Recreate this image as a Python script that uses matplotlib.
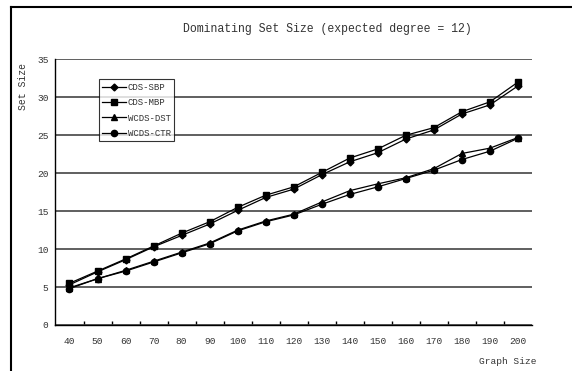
import matplotlib

matplotlib.use("Agg")
import matplotlib.pyplot as plt
from matplotlib.lines import Line2D

graph_sizes = ["40", "50", "60", "70", "80", "90", "100", "110", "120",
               "130", "140", "150", "160", "170", "180", "190", "200"]

cds_sbp = [5.3, 7.0, 8.6, 10.3, 11.8, 13.3, 15.1, 16.8, 17.9,
           19.8, 21.5, 22.7, 24.5, 25.7, 27.8, 29.0, 31.5]
cds_mbp = [5.5, 7.1, 8.7, 10.4, 12.1, 13.6, 15.5, 17.1, 18.2,
           20.1, 22.0, 23.2, 25.0, 26.0, 28.1, 29.4, 32.0]
wcds_dst = [4.9, 6.1, 7.2, 8.4, 9.6, 10.8, 12.5, 13.7, 14.6,
            16.2, 17.7, 18.6, 19.4, 20.6, 22.6, 23.3, 24.7]
wcds_ctr = [4.8, 6.1, 7.1, 8.3, 9.5, 10.7, 12.4, 13.6, 14.5,
            15.9, 17.2, 18.2, 19.3, 20.4, 21.8, 22.9, 24.6]

series = [
    ("CDS-SBP", cds_sbp, "D", 3.5),
    ("CDS-MBP", cds_mbp, "s", 4.5),
    ("WCDS-DST", wcds_dst, "^", 4.5),
    ("WCDS-CTR", wcds_ctr, "o", 4.5),
]

plt.rcParams["font.family"] = ["Liberation Mono", "DejaVu Sans Mono"]

fig = plt.figure(figsize=(5.72, 3.71), dpi=100)
ax = fig.add_axes([0.097, 0.124, 0.833, 0.716])

for name, vals, mk, ms in series:
    ax.plot(graph_sizes, vals, color="black", lw=0.9, marker=mk,
            markersize=ms, markerfacecolor="black", markeredgecolor="black",
            label=name, zorder=3)

ax.set_xlim(-0.5, len(graph_sizes) - 0.5)
ax.set_ylim(0, 35)
ax.set_yticks(range(0, 36, 5))
ax.yaxis.grid(True, color="#444444", lw=1.2)
ax.set_axisbelow(True)

ax.set_xticks(range(len(graph_sizes)))
ax.set_xticklabels(graph_sizes)
ax.set_xticks([i + 0.5 for i in range(len(graph_sizes) - 1)], minor=True)
ax.tick_params(axis="x", which="major", length=0, pad=9,
               labelsize=6.8, labelcolor="#333333")
ax.tick_params(axis="x", which="minor", direction="in", length=3, width=1)
ax.tick_params(axis="y", length=0, pad=5, labelsize=6.8, labelcolor="#333333")

for s in ["top", "right"]:
    ax.spines[s].set_visible(False)
for s in ["left", "bottom"]:
    ax.spines[s].set_color("black")
    ax.spines[s].set_linewidth(1.0)

leg = ax.legend(loc="upper left", bbox_to_anchor=(0.091, 0.925),
                fontsize=6.5, frameon=True, fancybox=False,
                handlelength=2.6, handletextpad=0.2, labelspacing=0.7,
                borderpad=0.4, borderaxespad=0)
leg.get_frame().set_edgecolor("black")
leg.get_frame().set_linewidth(0.8)
for t in leg.get_texts():
    t.set_color("#333333")

fig.text(0.572, 0.922, "Dominating Set Size (expected degree = 12)",
         ha="center", va="center", fontsize=8.3, color="#333333")
fig.text(0.040, 0.768, "Set Size", rotation=90, ha="center", va="center",
         fontsize=7, color="#333333")
fig.text(0.938, 0.014, "Graph Size", ha="right", va="bottom",
         fontsize=6.8, color="#333333")

# frame around the chart (only left and top visible in the crop)
fig.add_artist(Line2D([0.019, 0.019], [0, 0.981], transform=fig.transFigure,
                      color="black", lw=1.5))
fig.add_artist(Line2D([0.019, 1.0], [0.981, 0.981], transform=fig.transFigure,
                      color="black", lw=1.5))

fig.savefig("out.png", dpi=100)
